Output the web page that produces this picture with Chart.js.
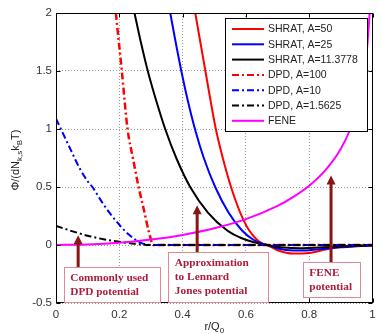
<!DOCTYPE html>
<html>
<head>
<meta charset="utf-8">
<script src="https://cdn.jsdelivr.net/npm/chart.js@4.4.1/dist/chart.umd.min.js"></script>
<style>
  body { margin: 0; background: #fff; }
  canvas { display: block; }
</style>
</head>
<body>
<canvas id="myChart" width="381" height="334"></canvas>
<script>
// values
const xTicks = [0, 0.2, 0.4, 0.6, 0.8, 1];
const yTicks = [-0.5, 0, 0.5, 1, 1.5, 2];

const seriesLabels = ['SHRAT, A=50', 'SHRAT, A=25', 'SHRAT, A=11.3778',
  'DPD, A=100', 'DPD, A=10', 'DPD, A=1.5625', 'FENE'];

const shrat50R   = [0.44, 0.456, 0.472, 0.488, 0.505, 0.527, 0.553, 0.582, 0.61, 0.635, 0.652, 0.667, 0.7, 0.75, 0.8, 0.85, 0.9, 0.95, 1];
const shrat50Phi = [2, 1.75, 1.5, 1.25, 1.0, 0.75, 0.5, 0.28, 0.127, 0.045, 0.012, 0, -0.045, -0.074, -0.068, -0.04, -0.014, -0.005, 0];

const shrat25R   = [0.361, 0.378, 0.396, 0.416, 0.439, 0.467, 0.503, 0.545, 0.587, 0.62, 0.645, 0.667, 0.7, 0.75, 0.8, 0.85, 0.9, 0.95, 1];
const shrat25Phi = [2, 1.75, 1.5, 1.25, 1.0, 0.75, 0.5, 0.28, 0.127, 0.052, 0.018, 0, -0.03, -0.048, -0.045, -0.032, -0.02, -0.01, -0.005];

const shrat11R   = [0.248, 0.268, 0.29, 0.316, 0.345, 0.38, 0.424, 0.48, 0.54, 0.585, 0.625, 0.667, 0.72, 0.77, 0.83, 0.9, 1];
const shrat11Phi = [2, 1.75, 1.5, 1.25, 1.0, 0.75, 0.5, 0.28, 0.127, 0.06, 0.024, 0, -0.022, -0.028, -0.022, -0.012, -0.005];

const dpd100R   = [0.189, 0.208, 0.226, 0.243, 0.261, 0.278, 0.292, 0.308, 1];
const dpd100Phi = [2, 1.5, 1.0, 0.75, 0.5, 0.3, 0.13, 0, 0];

const dpd10R   = [0, 0.05, 0.073, 0.1, 0.115, 0.15, 0.195, 0.23, 0.267, 0.3, 1];
const dpd10Phi = [1.09, 0.8, 0.67, 0.55, 0.5, 0.35, 0.19, 0.09, 0.02, 0, 0];

const dpd1R   = [0, 0.05, 0.1, 0.15, 0.2, 0.25, 0.3, 1];
const dpd1Phi = [0.165, 0.12, 0.08, 0.05, 0.028, 0.01, 0, 0];

const feneR   = [0, 0.1, 0.2, 0.3, 0.4, 0.5, 0.6, 0.7, 0.75, 0.8, 0.85, 0.9, 0.93, 0.95, 0.97, 0.98, 0.99, 0.9915];
const fenePhi = [0, 0.005, 0.02, 0.047, 0.087, 0.144, 0.223, 0.337, 0.415, 0.511, 0.641, 0.83, 1.0, 1.16, 1.41, 1.61, 1.96, 2.03];

const dashDot = [7, 3, 2, 3];

function pts(r, phi) {
  return r.map((v, i) => ({ x: v, y: phi[i] }));
}

const series = [
  { r: shrat50R, phi: shrat50Phi, color: '#ff0000', dash: [], width: 2 },
  { r: shrat25R, phi: shrat25Phi, color: '#0000ff', dash: [], width: 2 },
  { r: shrat11R, phi: shrat11Phi, color: '#000000', dash: [], width: 2 },
  { r: dpd100R, phi: dpd100Phi, color: '#ff0000', dash: dashDot, width: 2.5 },
  { r: dpd10R, phi: dpd10Phi, color: '#0000ff', dash: dashDot, width: 2 },
  { r: dpd1R, phi: dpd1Phi, color: '#000000', dash: dashDot, width: 2 },
  { r: feneR, phi: fenePhi, color: '#ff00ff', dash: [], width: 2 }
];

const datasets = series.map((s, i) => ({
  label: seriesLabels[i],
  data: pts(s.r, s.phi),
  borderColor: s.color,
  borderDash: s.dash,
  borderWidth: s.width,
  pointRadius: 0,
  showLine: true,
  fill: false,
  cubicInterpolationMode: 'monotone',
  order: series.length - 1 - i
}));

// the three boxed notes with arrows (in data units)
const notes = [
  { lines: ['Commonly used', 'DPD potential'], box: [0.0245, 0.327, -0.192, -0.494], arrowX: 0.07, tip: 0.084 },
  { lines: ['Approximation', 'to Lennard', 'Jones potential'], box: [0.355, 0.67, -0.063, -0.494], arrowX: 0.446, tip: 0.342 },
  { lines: ['FENE', 'potential'], box: [0.78, 0.959, -0.147, -0.45], arrowX: 0.869, tip: 0.6 }
];

const sansFont = '"Liberation Sans", Arial, sans-serif';

const extras = {
  id: 'extras',
  afterDatasetsDraw(chart) {
    const { ctx, chartArea: a, scales: { x, y } } = chart;
    ctx.save();
    ctx.setLineDash([]);

    // frame
    const L = Math.round(a.left) + 0.5, R = Math.round(a.right) - 0.5;
    const T = Math.round(a.top) + 0.5, B = Math.round(a.bottom) - 0.5;
    ctx.strokeStyle = '#000';
    ctx.lineWidth = 1;
    ctx.strokeRect(L, T, R - L, B - T);

    // inner ticks
    ctx.beginPath();
    xTicks.forEach(v => {
      const px = Math.round(x.getPixelForValue(v)) + 0.5;
      ctx.moveTo(px, B); ctx.lineTo(px, B - 4);
      ctx.moveTo(px, T); ctx.lineTo(px, T + 4);
    });
    yTicks.forEach(v => {
      const py = Math.round(y.getPixelForValue(v)) + 0.5;
      ctx.moveTo(L, py); ctx.lineTo(L + 4, py);
      ctx.moveTo(R, py); ctx.lineTo(R - 4, py);
    });
    ctx.stroke();

    // legend
    const lx0 = 225, ly0 = 18, lx1 = 367, ly1 = 131;
    ctx.fillStyle = '#fff';
    ctx.fillRect(lx0, ly0, lx1 - lx0, ly1 - ly0);
    ctx.strokeStyle = '#000';
    ctx.lineWidth = 1;
    ctx.strokeRect(lx0 + 0.5, ly0 + 0.5, lx1 - lx0, ly1 - ly0);
    ctx.font = '10.5px ' + sansFont;
    ctx.textBaseline = 'middle';
    chart.data.datasets.forEach((d, i) => {
      const ry = 29 + i * 15.3;
      ctx.strokeStyle = d.borderColor;
      ctx.lineWidth = 2;
      ctx.setLineDash(d.borderDash);
      ctx.beginPath();
      ctx.moveTo(232, ry); ctx.lineTo(264, ry);
      ctx.stroke();
      ctx.setLineDash([]);
      ctx.fillStyle = '#222';
      ctx.fillText(d.label, 268, ry + 0.5);
    });

    // notes
    notes.forEach(n => {
      const bx0 = x.getPixelForValue(n.box[0]), bx1 = x.getPixelForValue(n.box[1]);
      const by0 = y.getPixelForValue(n.box[2]), by1 = y.getPixelForValue(n.box[3]);
      const ax = x.getPixelForValue(n.arrowX), tipY = y.getPixelForValue(n.tip);
      // arrow
      ctx.strokeStyle = '#8b1414';
      ctx.fillStyle = '#8b1414';
      ctx.lineWidth = 3;
      ctx.beginPath();
      ctx.moveTo(ax, by0); ctx.lineTo(ax, tipY + 7);
      ctx.stroke();
      ctx.beginPath();
      ctx.moveTo(ax, tipY); ctx.lineTo(ax - 4.5, tipY + 9); ctx.lineTo(ax + 4.5, tipY + 9);
      ctx.closePath();
      ctx.fill();
      // box
      ctx.fillStyle = '#fff';
      ctx.fillRect(bx0, by0, bx1 - bx0, by1 - by0);
      ctx.strokeStyle = '#e08a96';
      ctx.lineWidth = 1;
      ctx.strokeRect(Math.round(bx0) + 0.5, Math.round(by0) + 0.5, Math.round(bx1 - bx0), Math.round(by1 - by0));
      ctx.fillStyle = '#ad1c3a';
      ctx.font = 'bold 11.3px "Liberation Serif", "Times New Roman", serif';
      ctx.textBaseline = 'middle';
      n.lines.forEach((t, k) => ctx.fillText(t, bx0 + 6.5, by0 + 11 + k * 14));
    });

    // axis titles
    ctx.fillStyle = '#222';
    ctx.textBaseline = 'alphabetic';
    const big = '11px ' + sansFont, small = '8px ' + sansFont;
    // x title r/Q0
    ctx.font = big;
    const wA = ctx.measureText('r/Q').width;
    ctx.font = small;
    const wB = ctx.measureText('0').width;
    let cx = (a.left + a.right) / 2 - (wA + wB) / 2;
    ctx.font = big; ctx.fillText('r/Q', cx, 330);
    ctx.font = small; ctx.fillText('0', cx + wA, 333);

    // y title Φ/(dN_{k,s} k_B T)
    const parts = [['Φ/(dN', big, 0], ['k,s', small, 3], ['k', big, 0], ['B', small, 3], ['T)', big, 0]];
    let total = 0;
    parts.forEach(p => { ctx.font = p[1]; total += ctx.measureText(p[0]).width; });
    ctx.translate(19, (a.top + a.bottom) / 2 + 2);
    ctx.rotate(-Math.PI / 2);
    let px = -total / 2;
    parts.forEach(p => {
      ctx.font = p[1];
      ctx.fillText(p[0], px, p[2]);
      px += ctx.measureText(p[0]).width;
    });
    ctx.restore();
  }
};

const ctx = document.getElementById('myChart').getContext('2d');
new Chart(ctx, {
  type: 'scatter',
  data: { datasets: datasets },
  options: {
    responsive: false,
    animation: false,
    devicePixelRatio: 1,
    layout: { padding: { left: 0, right: 8.5, top: 13, bottom: 0 } },
    plugins: { legend: { display: false }, tooltip: { enabled: false } },
    scales: {
      x: {
        type: 'linear',
        min: 0, max: 1,
        afterBuildTicks: s => { s.ticks = xTicks.map(v => ({ value: v })); },
        afterFit: s => { s.height = 31; },
        grid: { color: '#9a9a9a', drawTicks: false, lineWidth: 1 },
        border: { display: false, dash: [1, 2] },
        ticks: { padding: 5, color: '#333', font: { family: sansFont, size: 11.5 }, maxRotation: 0, callback: v => String(v) }
      },
      y: {
        type: 'linear',
        min: -0.5, max: 2,
        afterBuildTicks: s => { s.ticks = yTicks.map(v => ({ value: v })); },
        afterFit: s => { s.width = 56; },
        grid: { color: '#9a9a9a', drawTicks: false, lineWidth: 1 },
        border: { display: false, dash: [1, 2] },
        ticks: { padding: 4, color: '#333', font: { family: sansFont, size: 11.5 }, callback: v => String(v) }
      }
    }
  },
  plugins: [extras]
});
</script>
</body>
</html>
